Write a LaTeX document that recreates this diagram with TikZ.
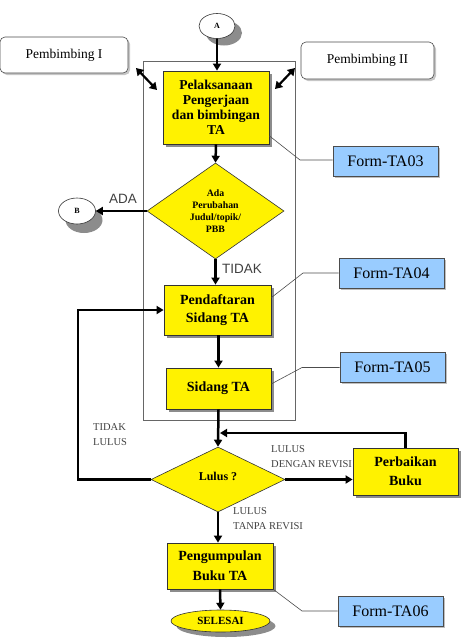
\documentclass[tikz,border=0pt]{standalone}
\usepackage{fontspec}
\setmainfont{Liberation Serif}
\newfontfamily\arialf{Liberation Sans}
\usetikzlibrary{shapes.geometric,arrows.meta,shadows}
\definecolor{formblue}{HTML}{99CCFF}
\definecolor{shadowgray}{HTML}{8C8C8C}
\tikzset{
  proc/.style={draw=black!80, line width=0.8pt, fill=yellow, align=center, inner sep=0pt,
    font=\bfseries\fontsize{14}{16}\selectfont,
    drop shadow={shadow xshift=3pt, shadow yshift=-3pt, fill=shadowgray, opacity=1}},
  decis/.style={diamond, draw=black!80, line width=0.6pt, fill=yellow, align=center, inner sep=0pt},
  term/.style={ellipse, draw=black!80, line width=0.6pt, fill=white, inner sep=0pt,
    font=\bfseries\fontsize{8}{9}\selectfont},
  shade/.style={fill=shadowgray},
  formbox/.style={draw=black!70, line width=0.7pt, fill=formblue, inner sep=0pt,
    font=\fontsize{16}{18}\selectfont, minimum width=105pt, minimum height=30pt,
    drop shadow={shadow xshift=1.5pt, shadow yshift=-1.5pt, fill=gray!50, opacity=1}},
  actor/.style={draw=black!70, line width=0.6pt, rounded corners=5pt, fill=white, inner sep=0pt,
    font=\fontsize{13.5}{15}\selectfont,
    drop shadow={shadow xshift=2pt, shadow yshift=-2pt, fill=gray!45, opacity=1}},
  flow/.style={line width=2.5pt, -{Triangle[length=7pt,width=8pt]}},
  flowboth/.style={line width=2.2pt, {Triangle[length=7pt,width=8.5pt]}-{Triangle[length=7pt,width=8.5pt]}},
  formline/.style={draw=black!70, line width=0.6pt},
  lbl/.style={text=black!75, font=\fontsize{10.5}{15.5}\selectfont, align=left, inner sep=0pt},
  sanslbl/.style={text=black!75, font=\arialf\fontsize{13.5}{15}\selectfont, inner sep=0pt}
}
\begin{document}
\begin{tikzpicture}[x=1pt,y=-1pt]
\useasboundingbox (0,0) rectangle (461,638);
% container
\node[draw=black!60, line width=0.6pt, minimum width=152pt, minimum height=359pt, inner sep=0pt] (cont) at (219,240.5) {};
% actors
\node[actor, minimum width=128pt, minimum height=36pt] (p1) at (64,55) {Pembimbing I};
\node[actor, minimum width=133pt, minimum height=37pt] (p2) at (367.5,60.5) {Pembimbing II};
% terminal shadows
\fill[shade] (224,33) ellipse [x radius=18pt, y radius=12.5pt];
\fill[shade] (84,220) ellipse [x radius=18.5pt, y radius=13pt];
\fill[shade] (226,626) ellipse [x radius=49.5pt, y radius=11pt];
% terminals
\node[term, minimum width=36pt, minimum height=25pt] (A) at (217,26) {A};
\node[term, minimum width=37pt, minimum height=26pt] (B) at (77,211) {B};
\node[term, fill=yellow, minimum width=99pt, minimum height=22pt, font=\bfseries\fontsize{11}{12}\selectfont] (sel) at (220.5,621) {SELESAI};
% processes
\node[proc, minimum width=106pt, minimum height=73pt, font=\bfseries\fontsize{13.6}{15}\selectfont] (pel) at (216,107.5) {Pelaksanaan\\Pengerjaan\\dan bimbingan\\TA};
\node[proc, minimum width=107pt, minimum height=50pt, font=\bfseries\fontsize{14}{18}\selectfont] (pen) at (217.5,310) {Pendaftaran\\Sidang TA};
\node[proc, minimum width=105pt, minimum height=41pt] (sid) at (218.5,388.5) {Sidang TA};
\node[proc, minimum width=105pt, minimum height=47pt, font=\bfseries\fontsize{14}{19}\selectfont] (per) at (405.5,471.5) {Perbaikan\\Buku};
\node[proc, minimum width=106pt, minimum height=46pt, font=\bfseries\fontsize{14}{20}\selectfont] (pg) at (220,566) {Pengumpulan\\Buku TA};
% decisions
\node[decis, minimum width=137pt, minimum height=96pt, font=\bfseries\fontsize{9.8}{12}\selectfont] (d1) at (215.5,211) {Ada\\Perubahan\\Judul/topik/\\PBB};
\node[decis, minimum width=134pt, minimum height=65pt, font=\bfseries\fontsize{12}{13}\selectfont] (d2) at (218,479.5) {\raisebox{6pt}{Lulus ?}};
% forms
\node[formbox] (f3) at (385.5,161.5) {Form-TA03};
\node[formbox] (f4) at (391.5,273) {Form-TA04};
\node[formbox] (f5) at (392.5,367.5) {Form-TA05};
\node[formbox] (f6) at (390.5,611) {Form-TA06};
% form connectors
\coordinate (k3) at (300,160);
\coordinate (k4) at (303,273);
\coordinate (k5) at (302,367.5);
\coordinate (k6) at (302,611);
\draw[formline] (pel.-28) -- (k3) -- (f3.west |- k3);
\draw[formline] (pen.13) -- (k4) -- (f4.west);
\draw[formline] (sid.5) -- (k5) -- (f5.west);
\draw[formline] (pg.south east) -- (k6) -- (f6.west);
% main flow
\draw[flow] (A.south) -- (A.south |- pel.north);
\draw[flow] (pel.south) -- (d1.north);
\draw[flow] (d1.west) -- (B.east);
\draw[flow] (d1.south) -- (d1.south |- pen.north);
\draw[flow] (pen.south -| sid.north) -- (sid.north);
\draw[flow] (sid.south) -- (d2.north);
\draw[flow] (d2.east) -- (d2.east -| per.west);
\draw[flow] (d2.south) -- (d2.south |- pg.north);
\draw[flow] (pg.south) -- (sel.north);
\coordinate (L) at (78,479.5);
\draw[line width=2.5pt, -{Triangle[length=7pt,width=8pt]}, line join=miter] (d2.west) -- (L) |- (pen.west);
\coordinate (J) at (220,433);
\draw[line width=2.5pt, -{Triangle[length=7pt,width=8pt]}, line join=miter] (per.north) |- (J);
% bidirectional
\coordinate (u1) at (136,68);
\coordinate (v1) at (157,90);
\coordinate (u2) at (295,68);
\coordinate (v2) at (275,89);
\draw[flowboth] (u1) -- (v1);
\draw[flowboth] (u2) -- (v2);
% labels
\node[sanslbl] (ada) at (123,199) {ADA};
\node[sanslbl] (tidak) at (242,269) {TIDAK};
\node[lbl, anchor=north west] (tl) at (93,423) {TIDAK\\LULUS};
\node[lbl, anchor=north west] (ldr) at (271,445) {LULUS\\DENGAN REVISI};
\node[lbl, anchor=north west] (ltr) at (233,507) {LULUS\\TANPA REVISI};
\end{tikzpicture}
\end{document}
